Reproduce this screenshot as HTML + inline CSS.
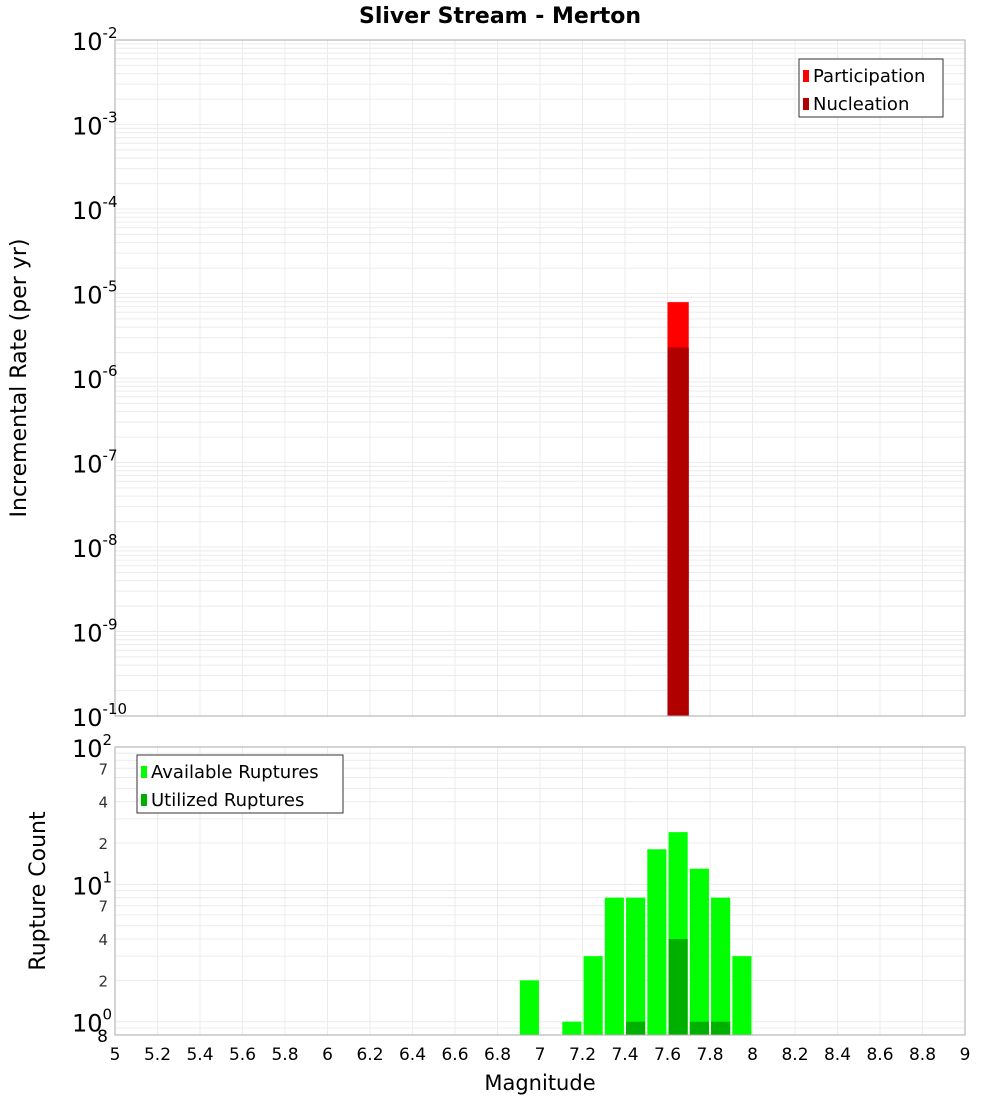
<!DOCTYPE html>
<html><head><meta charset="utf-8"><style>
body{margin:0;background:#fff;font-family:"Liberation Sans","DejaVu Sans",sans-serif}
svg text{font-family:"DejaVu Sans","Liberation Sans",sans-serif}
</style></head><body>
<svg id="c" width="1000" height="1100" xmlns="http://www.w3.org/2000/svg"></svg>
<script>
const binCenters=[6.95,7.15,7.25,7.35,7.45,7.55,7.65,7.75,7.85,7.95];
const availableCounts=[2,1,3,8,8,18,24,13,8,3];
const utilizedCounts=[0,0,0,0,1,0,4,1,1,0];
const rateCenters=[7.65];
const participationRates=[7.9e-6];
const nucleationRates=[2.3e-6];
const xTicks=[5,5.2,5.4,5.6,5.8,6,6.2,6.4,6.6,6.8,7,7.2,7.4,7.6,7.8,8,8.2,8.4,8.6,8.8,9];
const topExps=[-10,-9,-8,-7,-6,-5,-4,-3,-2];
const bottomMinorLabels=[2,4,7,20,40,70];

const svg=document.getElementById('c');
const NS='http://www.w3.org/2000/svg';
function mk(t,a,p){const e=document.createElementNS(NS,t);for(const k in a)e.setAttribute(k,a[k]);(p||svg).appendChild(e);return e;}
const L=115,R=965,T1=40,B1=716,T2=747,B2=1035;
const x=v=>L+(v-5)/(9-5)*(R-L);
const y1=v=>T1+(-2-Math.log10(v))/8*(B1-T1);
const yMin2=0.8,yMax2=100;
const y2=v=>T2+(Math.log10(yMax2)-Math.log10(v))/(Math.log10(yMax2)-Math.log10(yMin2))*(B2-T2);

// grids
const g=mk('g',{});


for(let e=-10;e<-2;e++)for(let m=1;m<10;m++){const yy=y1(m*Math.pow(10,e));mk('line',{x1:L,x2:R,y1:yy,y2:yy,stroke:'#ececec','stroke-width':1},g);}
for(let e=-1;e<2;e++)for(let m=1;m<10;m++){const v=m*Math.pow(10,e);if(v<yMin2||v>yMax2)continue;const yy=y2(v);mk('line',{x1:L,x2:R,y1:yy,y2:yy,stroke:'#ececec','stroke-width':1},g);}
xTicks.forEach(t=>{mk('line',{x1:x(t),x2:x(t),y1:T1,y2:B1,stroke:'#ececec'},g);mk('line',{x1:x(t),x2:x(t),y1:T2,y2:B2,stroke:'#ececec'},g);});

// top bars
const w=0.1;
rateCenters.forEach((c,i)=>{
 let r=mk('rect',{x:x(c-w/2),y:y1(participationRates[i]),width:x(c+w/2)-x(c-w/2),height:B1-y1(participationRates[i]),fill:'#ff0000'});
 
 
 r=mk('rect',{x:x(c-w/2),y:y1(nucleationRates[i]),width:x(c+w/2)-x(c-w/2),height:B1-y1(nucleationRates[i]),fill:'#b00000'});
 
 
});
// bottom bars
binCenters.forEach((c,i)=>{
 const x0=x(c-0.045),x1=x(c+0.045);
 if(availableCounts[i]>0){const r=mk('rect',{x:x0,y:y2(availableCounts[i]),width:x1-x0,height:B2-y2(availableCounts[i]),fill:'#00ff00'});
 
 }
 if(utilizedCounts[i]>0){const r=mk('rect',{x:x0,y:y2(utilizedCounts[i]),width:x1-x0,height:B2-y2(utilizedCounts[i]),fill:'#00b000'});
 
 }
});
// frames
mk('rect',{x:L,y:T1,width:R-L,height:B1-T1,fill:'none',stroke:'#aaa'});
mk('rect',{x:L,y:T2,width:R-L,height:B2-T2,fill:'none',stroke:'#aaa'});

// top y labels
topExps.forEach(e=>{
 const t=mk('text',{x:72,y:y1(Math.pow(10,e))+10,'font-size':24,fill:'#000'});
 
 
 t.innerHTML='10<tspan dy="-12" font-size="15">'+e+'</tspan>';
});
// bottom y labels
[[100,'2'],[10,'1'],[1,'0']].forEach(([v,e])=>{
 const t=mk('text',{x:72,y:y2(v)+10,'font-size':24,fill:'#000'});
 
 
 t.innerHTML='10<tspan dy="-12" font-size="15">'+e+'</tspan>';
});
bottomMinorLabels.forEach(v=>{
 const t=mk('text',{x:108,y:y2(v)+6,'font-size':15,fill:'#333','text-anchor':'end'});
 
 
 t.textContent=String(v).charAt(0);
});
let t8=mk('text',{x:108,y:1042,'font-size':17,fill:'#000','text-anchor':'end'});t8.textContent='8';


// x labels
xTicks.forEach(v=>{
 const t=mk('text',{x:x(v),y:1060,'font-size':17,fill:'#000','text-anchor':'middle'});
 
 
 t.textContent=String(+v.toFixed(1));
});
// titles
let tt=mk('text',{x:500,y:23,'font-size':22,'font-weight':'bold','text-anchor':'middle'});tt.textContent='Sliver Stream - Merton';


tt=mk('text',{x:540,y:1090,'font-size':21,'text-anchor':'middle'});tt.textContent='Magnitude';


tt=mk('text',{x:0,y:0,'font-size':22,'text-anchor':'middle',transform:'translate(26,378) rotate(-90)'});tt.textContent='Incremental Rate (per yr)';


tt=mk('text',{x:0,y:0,'font-size':22,'text-anchor':'middle',transform:'translate(45,891) rotate(-90)'});tt.textContent='Rupture Count';


// legends
function legend(x0,y0,wd,items,name){
 const lg=mk('g',{});
 
 
 mk('rect',{x:x0,y:y0,width:wd,height:58,fill:'#fff',stroke:'#333'},lg);
 items.forEach(([c,l],i)=>{
  mk('rect',{x:x0+4,y:y0+11+i*28,width:6,height:12,fill:c},lg);
  const t=mk('text',{x:x0+14,y:y0+23+i*28,'font-size':18},lg);t.textContent=l;
 });
}
legend(799,59,144,[['#ff0000','Participation'],['#b00000','Nucleation']],'rate-legend');
legend(137,755,206,[['#00ff00','Available Ruptures'],['#00b000','Utilized Ruptures']],'count-legend');
</script>
</body></html>
